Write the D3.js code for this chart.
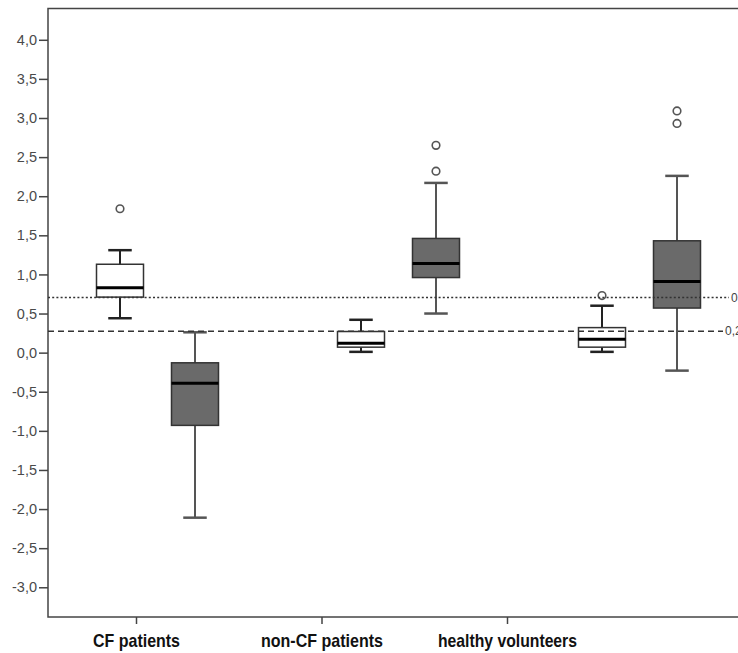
<!DOCTYPE html>
<html><head><meta charset="utf-8">
<script src="https://cdn.jsdelivr.net/npm/d3@7"></script>
<style>html,body{margin:0;padding:0;background:#fff;overflow:hidden}</style>
</head><body>
<svg id="chart" width="738" height="653"></svg>
<script>
const groups = ["CF patients", "non-CF patients", "healthy volunteers"];
const series = ["white", "gray"];
// white boxes
const whiteLow = [0.44, 0.01, 0.01];
const whiteQ1 = [0.71, 0.07, 0.07];
const whiteMed = [0.83, 0.12, 0.17];
const whiteQ3 = [1.13, 0.27, 0.32];
const whiteHigh = [1.31, 0.42, 0.60];
const whiteOutliers = [[1.84], [], [0.73]];
// gray boxes
const grayLow = [-2.11, 0.50, -0.23];
const grayQ1 = [-0.93, 0.96, 0.57];
const grayMed = [-0.39, 1.14, 0.91];
const grayQ3 = [-0.13, 1.46, 1.43];
const grayHigh = [0.26, 2.17, 2.26];
const grayOutliers = [[], [2.32, 2.65], [2.93, 3.09]];
// reference lines
const refValues = [0.706, 0.275];
const refLabels = ["0,706", "0,275"];
const yTicks = [-3, -2.5, -2, -1.5, -1, -0.5, 0, 0.5, 1, 1.5, 2, 2.5, 3, 3.5, 4];
const labelWidths = [87, 122, 139];

(function () {
const svg = d3.select("#chart");
const mLeft = 48, mRight = 762, mTop = 8.5, mBottom = 617;
const y = d3.scaleLinear().domain([-3.38, 4.40]).range([mBottom, mTop]);
const xGroup = d3.scalePoint().domain(groups).range([157.5, 639.5]);
const xSub = d3.scalePoint().domain(series).range([-37.5, 37.5]);
const xLabel = d3.scalePoint().domain(groups).range([136, 507]);
const boxW = 47;

const fmt = v => d3.format(".1f")(v).replace(".", ",").replace("\u2212", "-");

// frame
svg.append("rect").attr("x", mLeft).attr("y", mTop).attr("width", mRight - mLeft).attr("height", mBottom - mTop)
  .attr("fill", "none").attr("stroke", "#444").attr("stroke-width", 1.5);

// y axis
const ya = svg.append("g").attr("transform", `translate(${mLeft},0)`)
  .call(d3.axisLeft(y).tickValues(yTicks).tickFormat(fmt).tickSize(9).tickPadding(2));
ya.select(".domain").remove();
ya.selectAll(".tick line").attr("stroke", "#444").attr("stroke-width", 1.5);
ya.selectAll(".tick text").attr("font-family", "Liberation Sans, Arial, sans-serif").attr("font-size", 14.5).attr("fill", "#4a4a4a");

// x axis
const xa = svg.append("g").attr("transform", `translate(0,${mBottom})`)
  .call(d3.axisBottom(xLabel).tickSize(7).tickPadding(10));
xa.select(".domain").remove();
xa.selectAll(".tick line").attr("stroke", "#444").attr("stroke-width", 1.5);
xa.selectAll(".tick text").attr("font-family", "Liberation Sans, Arial, sans-serif").attr("font-size", 19)
  .attr("font-weight", "bold").attr("fill", "#111").attr("dy", "0.71em")
  .attr("textLength", (d, i) => labelWidths[i]).attr("lengthAdjust", "spacingAndGlyphs");

function drawBoxes(key, low, q1, med, q3, high, outl, fill, whiskerColor) {
  groups.forEach((g, i) => {
    const cx = xGroup(g) + xSub(key);
    const gg = svg.append("g");
    gg.append("line").attr("x1", cx).attr("x2", cx).attr("y1", y(q3[i])).attr("y2", y(high[i]))
      .attr("stroke", whiskerColor).attr("stroke-width", 2);
    gg.append("line").attr("x1", cx).attr("x2", cx).attr("y1", y(q1[i])).attr("y2", y(low[i]))
      .attr("stroke", whiskerColor).attr("stroke-width", 2);
    [high[i], low[i]].forEach(v => {
      gg.append("line").attr("x1", cx - boxW / 4).attr("x2", cx + boxW / 4).attr("y1", y(v)).attr("y2", y(v))
        .attr("stroke", whiskerColor).attr("stroke-width", 2.5);
    });
    gg.append("rect").attr("x", cx - boxW / 2).attr("width", boxW)
      .attr("y", y(q3[i])).attr("height", y(q1[i]) - y(q3[i]))
      .attr("fill", fill).attr("stroke", "#333").attr("stroke-width", 1.5);
    gg.append("line").attr("x1", cx - boxW / 2).attr("x2", cx + boxW / 2).attr("y1", y(med[i])).attr("y2", y(med[i]))
      .attr("stroke", "#000").attr("stroke-width", 3);
    outl[i].forEach(v => {
      gg.append("circle").attr("cx", cx).attr("cy", y(v)).attr("r", 3.8)
        .attr("fill", "#fff").attr("stroke", "#555").attr("stroke-width", 1.6);
    });
  });
}
drawBoxes("white", whiteLow, whiteQ1, whiteMed, whiteQ3, whiteHigh, whiteOutliers, "#fff", "#222");
drawBoxes("gray", grayLow, grayQ1, grayMed, grayQ3, grayHigh, grayOutliers, "#6a6a6a", "#555");

// reference lines
const dashes = ["2,2.2", "6,4"];
const ends = [729, 723];
refValues.forEach((v, i) => {
  svg.append("line").attr("x1", mLeft).attr("x2", ends[i]).attr("y1", y(v)).attr("y2", y(v))
    .attr("stroke", "#333").attr("stroke-width", 1.5).attr("stroke-dasharray", dashes[i]);
  svg.append("text").attr("x", ends[i] + 2).attr("y", y(v)).attr("dy", "0.35em")
    .attr("font-family", "Liberation Sans, Arial, sans-serif").attr("font-size", 12).attr("fill", "#444")
    .text(refLabels[i]);
});
})();
</script>
</body></html>
